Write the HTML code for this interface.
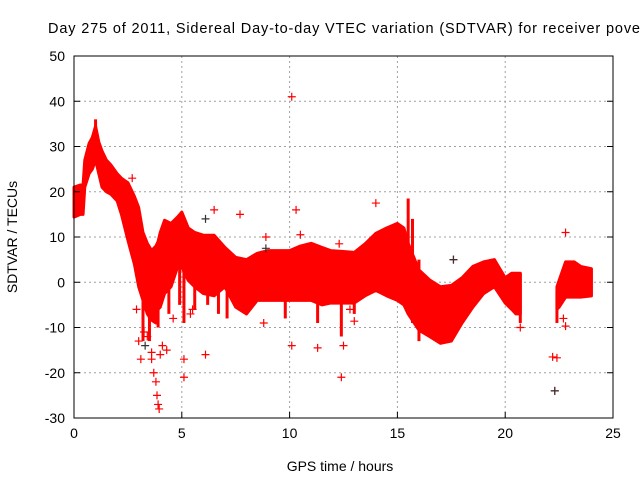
<!DOCTYPE html>
<html><head><meta charset="utf-8"><style>
body{margin:0;background:#fff;}
svg{display:block;font-family:"Liberation Sans",sans-serif;}
</style></head><body>
<svg id="chart" width="640" height="480" viewBox="0 0 640 480" xmlns="http://www.w3.org/2000/svg">
<rect width="640" height="480" fill="#fff"/>
<text x="48" y="33" font-size="14.5" textLength="592" lengthAdjust="spacing" fill="#000">Day 275 of 2011, Sidereal Day-to-day VTEC variation (SDTVAR) for receiver pove</text>
<g id="grid"></g>
<g id="band"></g>
<g id="marks"></g>
<g id="axes"></g>
<text transform="translate(17,237) rotate(-90)" text-anchor="middle" font-size="14" fill="#000">SDTVAR / TECUs</text>
<text x="340" y="471" text-anchor="middle" font-size="14" fill="#000">GPS time / hours</text>
</svg>
<script>
const xTicks=[0,5,10,15,20,25];
const yTicks=[-30,-20,-10,0,10,20,30,40,50];
const seg1Time=[0,0.3,0.42,0.5,0.7,0.85,1.0,1.15,1.3,1.5,1.7,2.0,2.2,2.5,2.8,3.0,3.2,3.4,3.6,3.8,3.9,4.0,4.2,4.5,4.8,5.0,5.3,5.6,6.0,6.5,7.0,7.5,8.0,8.5,9.0,9.5,10,10.5,11,11.5,11.9,12.5,13,13.5,14,14.5,15,15.3,15.5,16,16.5,17,17.5,18,18.5,19,19.5,20,20.3,20.5,20.7];
const seg1Upper=[21,21.5,21.5,27,30.7,32,34.5,31,29,27,26,24,23,22,19,16.5,11,8.6,7,8,9,11,13.7,13,14.4,15.5,12,11,10.4,10.4,7.7,5.5,5,6.4,7,7,7,8,8.6,7.7,7,6.8,6.6,8.5,10.8,12,13,12,8.6,2.7,0.5,-1,-0.7,1,3.5,4.5,5,1,2,2,2];
const seg1Lower=[14.4,15,15,21,24,25,27,24,21,20,19.5,18,15,9.3,4,-1,-4,-7,-8.4,-9,-6,-5.5,-2.5,-1,3.3,3.3,0.4,-1,-2.5,-3,-1,-5.5,-7,-4,-4,-4,-4,-4,-4,-5,-4.6,-4.6,-4.6,-3,-1.8,-3,-4,-5,-7,-10.6,-12,-13.5,-13,-9,-5.5,-2.5,-1,-4.6,-6,-7,-7];
const seg2Time=[22.4,22.5,22.8,23.2,23.5,24];
const seg2Upper=[-1,0.4,4.5,4.5,3.5,3];
const seg2Lower=[-6,-5.5,-3.3,-3.3,-3.3,-3];
const spikeT=[1.0,2.5,3.2,3.5,3.9,4.4,4.9,5.1,5.6,6.2,6.7,7.1,9.8,11.3,12.4,13.0,15.5,15.7,16.0,20.7,22.4];
const spikeTop=[36,20,0,-5,-3,11,10,8,9,10,8,4,6,6,5,4,18.5,14,5,2,-2];
const spikeBot=[30,10,-13,-13,-10,-7,-5,-9,-6,-5,-7,-8,-8,-9,-12,-7,0,-9,-13,-9,-9];
const outT=[10.1,14.0,10.3,2.3,2.7,3.6,3.0,3.1,3.7,3.8,3.85,3.9,3.95,4.1,4.0,5.1,5.1,6.1,6.5,7.7,8.9,10.1,10.5,11.3,12.4,12.5,12.3,12.8,13.0,17.6,20.7,22.2,22.3,22.8,22.7,22.8,22.4,3.4,4.3,5.4,8.8,2.9,3.25,3.6,4.6,2.1,5.5];
const outV=[41,17.5,16,17,23,-17,-13,-17,-20,-22,-25,-27,-28,-14,-16,-17,-21,-16,16,15,10,-14,10.5,-14.5,-21,-14,8.5,-6,-8.6,5,-10,-16.5,-24,11,-8,-9.7,-16.7,-12,-15,-7,-9,-6,-11,-15.5,-8,22,-6];
const outDark=[22.3,17.6,6.1,8.9,3.3];
const outDarkV=[-24,5,14,7.5,-14];

const L=74,R=613,T=56,B=418;
const xs=t=>L+(t-0)/25*(R-L);
const ys=v=>B-(v+30)/80*(B-T);
const NS='http://www.w3.org/2000/svg';
function mk(tag,parent){const e=document.createElementNS(NS,tag);document.getElementById(parent).appendChild(e);return e;}

xTicks.forEach(t=>{
 if(t>0&&t<25){const g=mk('line','grid');
 
 
 g.setAttribute('x1',xs(t));g.setAttribute('x2',xs(t));g.setAttribute('y1',T);g.setAttribute('y2',B);
 g.setAttribute('stroke','#a0a0a0');g.setAttribute('stroke-dasharray','2,3');}
 const k=mk('line','axes');k.setAttribute('x1',xs(t));k.setAttribute('x2',xs(t));k.setAttribute('y1',B);k.setAttribute('y2',B-6);k.setAttribute('stroke','#000');
 
 
 const lb=mk('text','axes');lb.textContent=t;lb.setAttribute('x',xs(t));lb.setAttribute('y',B+20);lb.setAttribute('text-anchor','middle');lb.setAttribute('font-size','14');
 
 
});
yTicks.forEach(v=>{
 if(v>-30&&v<50){const g=mk('line','grid');
 
 
 g.setAttribute('x1',L);g.setAttribute('x2',R);g.setAttribute('y1',ys(v));g.setAttribute('y2',ys(v));
 g.setAttribute('stroke','#a0a0a0');g.setAttribute('stroke-dasharray','2,3');}
 const k=mk('line','axes');k.setAttribute('x1',L);k.setAttribute('x2',L+6);k.setAttribute('y1',ys(v));k.setAttribute('y2',ys(v));k.setAttribute('stroke','#000');
 
 
 const k2=mk('line','axes');k2.setAttribute('x1',R);k2.setAttribute('x2',R-6);k2.setAttribute('y1',ys(v));k2.setAttribute('y2',ys(v));k2.setAttribute('stroke','#000');
 
 
 const lb=mk('text','axes');lb.textContent=v;lb.setAttribute('x',L-9);lb.setAttribute('y',ys(v)+5);lb.setAttribute('text-anchor','end');lb.setAttribute('font-size','14');
 
 
});
const fr=mk('rect','axes');fr.setAttribute('x',L);fr.setAttribute('y',T);fr.setAttribute('width',R-L);fr.setAttribute('height',B-T);fr.setAttribute('fill','none');fr.setAttribute('stroke','#000');



function band(tArr,uArr,lArr,name){
 let pts=[];
 for(let i=0;i<tArr.length;i++)pts.push(xs(tArr[i])+','+ys(uArr[i]));
 for(let i=tArr.length-1;i>=0;i--)pts.push(xs(tArr[i])+','+ys(lArr[i]));
 const p=mk('polygon','band');p.setAttribute('points',pts.join(' '));p.setAttribute('fill','#ff0000');p.setAttribute('stroke','#ff0000');p.setAttribute('stroke-width','3');p.setAttribute('stroke-linejoin','round');
 
 
}
band(seg1Time,seg1Upper,seg1Lower,'sdtvar-band-main');
band(seg2Time,seg2Upper,seg2Lower,'sdtvar-band-late');

spikeT.forEach((t,i)=>{
 const s=mk('line','band');
 
 
 s.setAttribute('x1',xs(t));s.setAttribute('x2',xs(t));s.setAttribute('y1',ys(spikeTop[i]));s.setAttribute('y2',ys(spikeBot[i]));
 s.setAttribute('stroke','#ff0000');s.setAttribute('stroke-width','3');
});

function plus(t,v,c,name){
 const x=xs(t),y=ys(v);
 const p=mk('path','marks');p.setAttribute('d',`M${x-4},${y}H${x+4}M${x},${y-4}V${y+4}`);p.setAttribute('stroke',c);p.setAttribute('stroke-width','1.2');
 
 
}
outT.forEach((t,i)=>plus(t,outV[i],'#ff0000','outlier-point'));
outDark.forEach((t,i)=>plus(t,outDarkV[i],'#333','outlier-point-dark'));
</script>
</body></html>
